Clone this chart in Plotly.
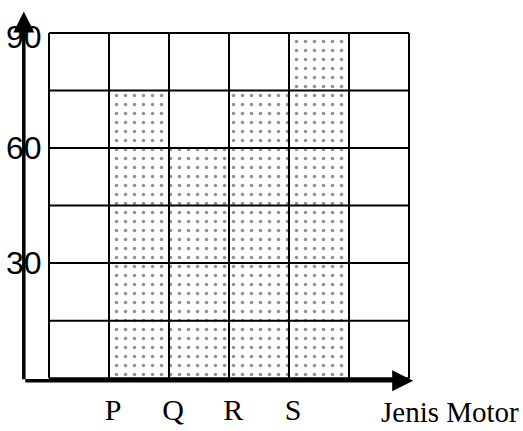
import plotly.graph_objects as go

# data
motor = ['P', 'Q', 'R', 'S']
jumlah = [75, 60, 75, 90]
bar_pos = [1.5, 2.5, 3.5, 4.5]
y_ticks = [30, 60, 90]
y_labels = ['30', '60', '90']
grid_cols = list(range(0, 7))
grid_rows = list(range(0, 91, 15))

fig = go.Figure()
fig.add_trace(go.Bar(
    x=bar_pos, y=jumlah, width=1,
    marker=dict(
        color='white',
        line=dict(width=0),
        pattern=dict(shape='.', size=9, solidity=0.12,
                     fgcolor='#222', bgcolor='white', fillmode='overlay'),
    ),
    showlegend=False, hoverinfo='skip',
))

# grid drawn on top of the bars
shapes = []
for c in grid_cols:
    shapes.append(dict(type='line', xref='x', yref='y', x0=c, x1=c,
                       y0=0, y1=90, layer='above',
                       line=dict(color='black', width=2)))
for r in grid_rows:
    shapes.append(dict(type='line', xref='x', yref='y', x0=0, x1=6,
                       y0=r, y1=r, layer='above',
                       line=dict(color='black', width=2)))

annotations = [
    # axes with arrow heads
    dict(x=6.07, y=-0.7, ax=-0.42, ay=-0.7, xref='x', yref='y',
         axref='x', ayref='y', text='', showarrow=True, arrowhead=2,
         arrowsize=1.2, arrowwidth=3.5, arrowcolor='black', standoff=0),
    dict(x=-0.42, y=95.6, ax=-0.42, ay=-0.7, xref='x', yref='y',
         axref='x', ayref='y', text='', showarrow=True, arrowhead=2,
         arrowsize=1.2, arrowwidth=3.5, arrowcolor='black', standoff=0),
    dict(x=1, xref='paper', xanchor='right', xshift=106, y=0, yref='paper',
         yanchor='top', yshift=-12, text='Jenis Motor', showarrow=False,
         font=dict(family='Liberation Serif', size=29, color='black')),
]
for v, t in zip(y_ticks, y_labels):
    # the top label sits a little below its grid line in the reference
    annotations.append(dict(x=-0.42, y=v, xref='x', yref='y', text=t,
                            showarrow=False, xanchor='center', yanchor='middle',
                            yshift=-4 if v == max(y_ticks) else 0,
                            font=dict(family='Liberation Sans', size=32,
                                      color='black')))

fig.update_layout(
    width=523, height=431, autosize=False,
    margin=dict(l=22, r=108, t=10, b=49, autoexpand=False),
    plot_bgcolor='white', paper_bgcolor='white',
    shapes=shapes, annotations=annotations,
    xaxis=dict(range=[-0.45, 6.1], showgrid=False, zeroline=False,
               showline=False, automargin=False,
               tickvals=[p - 0.43 for p in bar_pos],
               ticktext=motor, ticks='', ticklen=0, ticklabelstandoff=7,
               tickfont=dict(family='Liberation Serif', size=30,
                             color='black')),
    yaxis=dict(range=[-1, 96], showgrid=False, zeroline=False,
               showline=False, showticklabels=False, automargin=False),
)

fig.write_html('out.html', config={'displayModeBar': False},
               post_script="document.body.style.margin='0';")
